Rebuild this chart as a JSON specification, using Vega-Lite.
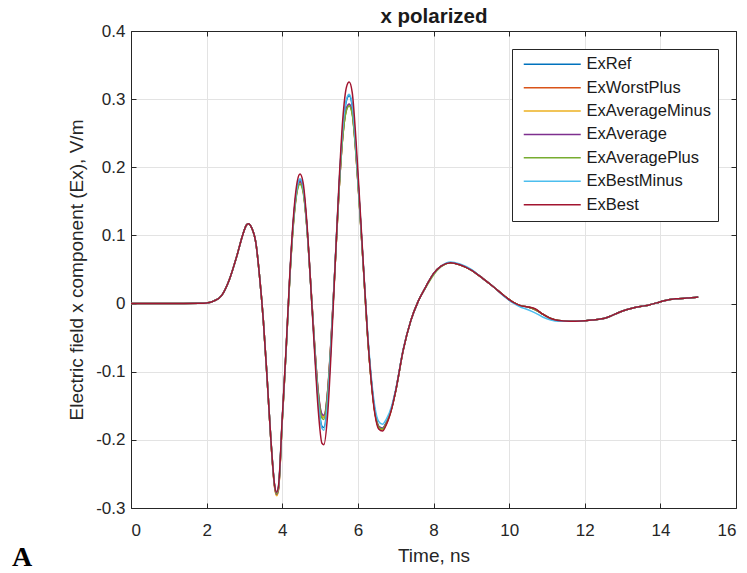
{
  "$schema": "https://vega.github.io/schema/vega-lite/v6.json",
  "width": 605,
  "height": 477,
  "autosize": {"type": "none"},
  "padding": {"left": 131, "top": 31, "right": 11, "bottom": 65},
  "background": "white",
  "title": {
    "text": "A",
    "orient": "bottom",
    "anchor": "start",
    "frame": "group",
    "font": "Liberation Serif",
    "fontSize": 28,
    "fontWeight": "bold",
    "color": "black",
    "dx": -119,
    "offset": -21
  },
  "config": {
    "font": "Liberation Sans",
    "view": {"stroke": null},
    "axis": {
      "domainColor": "#262626",
      "domainWidth": 1,
      "tickColor": "#262626",
      "tickSize": -5,
      "labelColor": "#262626",
      "titleColor": "#262626",
      "labelFont": "Liberation Sans",
      "titleFont": "Liberation Sans",
      "labelFontSize": 17,
      "titleFontSize": 19,
      "titleFontWeight": "normal",
      "gridColor": "#e3e3e3"
    }
  },
  "data": {
    "values": [
      {"t": 0, "ExRef": 0, "ExWorstPlus": 0, "ExAverageMinus": 0, "ExAverage": 0, "ExAveragePlus": 0, "ExBestMinus": 0, "ExBest": 0},
      {"t": 1, "ExRef": 0, "ExWorstPlus": 0, "ExAverageMinus": 0, "ExAverage": 0, "ExAveragePlus": 0, "ExBestMinus": 0, "ExBest": 0},
      {"t": 1.8, "ExRef": 0.0005, "ExWorstPlus": 0.0005, "ExAverageMinus": 0.0005, "ExAverage": 0.0005, "ExAveragePlus": 0.0005, "ExBestMinus": 0.0005, "ExBest": 0.0005},
      {"t": 2.0, "ExRef": 0.001, "ExWorstPlus": 0.001, "ExAverageMinus": 0.001, "ExAverage": 0.001, "ExAveragePlus": 0.001, "ExBestMinus": 0.001, "ExBest": 0.001},
      {"t": 2.2, "ExRef": 0.004, "ExWorstPlus": 0.004, "ExAverageMinus": 0.004, "ExAverage": 0.004, "ExAveragePlus": 0.004, "ExBestMinus": 0.004, "ExBest": 0.004},
      {"t": 2.4, "ExRef": 0.012, "ExWorstPlus": 0.012, "ExAverageMinus": 0.012, "ExAverage": 0.012, "ExAveragePlus": 0.012, "ExBestMinus": 0.012, "ExBest": 0.012},
      {"t": 2.6, "ExRef": 0.035, "ExWorstPlus": 0.035, "ExAverageMinus": 0.035, "ExAverage": 0.035, "ExAveragePlus": 0.035, "ExBestMinus": 0.035, "ExBest": 0.035},
      {"t": 2.8, "ExRef": 0.07, "ExWorstPlus": 0.07, "ExAverageMinus": 0.07, "ExAverage": 0.07, "ExAveragePlus": 0.07, "ExBestMinus": 0.07, "ExBest": 0.07},
      {"t": 2.95, "ExRef": 0.1, "ExWorstPlus": 0.1, "ExAverageMinus": 0.1, "ExAverage": 0.1, "ExAveragePlus": 0.1, "ExBestMinus": 0.1, "ExBest": 0.1},
      {"t": 3.05, "ExRef": 0.115, "ExWorstPlus": 0.115, "ExAverageMinus": 0.115, "ExAverage": 0.115, "ExAveragePlus": 0.115, "ExBestMinus": 0.115, "ExBest": 0.115},
      {"t": 3.1, "ExRef": 0.117, "ExWorstPlus": 0.117, "ExAverageMinus": 0.117, "ExAverage": 0.117, "ExAveragePlus": 0.117, "ExBestMinus": 0.117, "ExBest": 0.117},
      {"t": 3.2, "ExRef": 0.11, "ExWorstPlus": 0.11, "ExAverageMinus": 0.11, "ExAverage": 0.11, "ExAveragePlus": 0.11, "ExBestMinus": 0.11, "ExBest": 0.11},
      {"t": 3.3, "ExRef": 0.09, "ExWorstPlus": 0.09, "ExAverageMinus": 0.09, "ExAverage": 0.09, "ExAveragePlus": 0.09, "ExBestMinus": 0.09, "ExBest": 0.09},
      {"t": 3.4, "ExRef": 0.04, "ExWorstPlus": 0.04, "ExAverageMinus": 0.04, "ExAverage": 0.04, "ExAveragePlus": 0.04, "ExBestMinus": 0.04, "ExBest": 0.04},
      {"t": 3.5, "ExRef": -0.025, "ExWorstPlus": -0.025, "ExAverageMinus": -0.025, "ExAverage": -0.025, "ExAveragePlus": -0.025, "ExBestMinus": -0.025, "ExBest": -0.025},
      {"t": 3.6, "ExRef": -0.11, "ExWorstPlus": -0.11, "ExAverageMinus": -0.11, "ExAverage": -0.11, "ExAveragePlus": -0.11, "ExBestMinus": -0.11, "ExBest": -0.11},
      {"t": 3.7, "ExRef": -0.2, "ExWorstPlus": -0.201, "ExAverageMinus": -0.202, "ExAverage": -0.201, "ExAveragePlus": -0.2, "ExBestMinus": -0.2, "ExBest": -0.2},
      {"t": 3.8, "ExRef": -0.268, "ExWorstPlus": -0.27, "ExAverageMinus": -0.271, "ExAverage": -0.269, "ExAveragePlus": -0.268, "ExBestMinus": -0.267, "ExBest": -0.267},
      {"t": 3.85, "ExRef": -0.278, "ExWorstPlus": -0.281, "ExAverageMinus": -0.282, "ExAverage": -0.28, "ExAveragePlus": -0.279, "ExBestMinus": -0.277, "ExBest": -0.277},
      {"t": 3.9, "ExRef": -0.27, "ExWorstPlus": -0.273, "ExAverageMinus": -0.274, "ExAverage": -0.272, "ExAveragePlus": -0.271, "ExBestMinus": -0.269, "ExBest": -0.268},
      {"t": 4.0, "ExRef": -0.17, "ExWorstPlus": -0.172, "ExAverageMinus": -0.173, "ExAverage": -0.171, "ExAveragePlus": -0.172, "ExBestMinus": -0.17, "ExBest": -0.168},
      {"t": 4.1, "ExRef": -0.07, "ExWorstPlus": -0.07, "ExAverageMinus": -0.071, "ExAverage": -0.07, "ExAveragePlus": -0.071, "ExBestMinus": -0.07, "ExBest": -0.068},
      {"t": 4.2, "ExRef": 0.04, "ExWorstPlus": 0.039, "ExAverageMinus": 0.038, "ExAverage": 0.039, "ExAveragePlus": 0.037, "ExBestMinus": 0.04, "ExBest": 0.043},
      {"t": 4.3, "ExRef": 0.125, "ExWorstPlus": 0.122, "ExAverageMinus": 0.121, "ExAverage": 0.123, "ExAveragePlus": 0.119, "ExBestMinus": 0.125, "ExBest": 0.13},
      {"t": 4.4, "ExRef": 0.172, "ExWorstPlus": 0.168, "ExAverageMinus": 0.168, "ExAverage": 0.17, "ExAveragePlus": 0.166, "ExBestMinus": 0.172, "ExBest": 0.18},
      {"t": 4.47, "ExRef": 0.182, "ExWorstPlus": 0.178, "ExAverageMinus": 0.177, "ExAverage": 0.179, "ExAveragePlus": 0.175, "ExBestMinus": 0.183, "ExBest": 0.19},
      {"t": 4.55, "ExRef": 0.17, "ExWorstPlus": 0.167, "ExAverageMinus": 0.166, "ExAverage": 0.168, "ExAveragePlus": 0.164, "ExBestMinus": 0.171, "ExBest": 0.178},
      {"t": 4.65, "ExRef": 0.115, "ExWorstPlus": 0.114, "ExAverageMinus": 0.113, "ExAverage": 0.114, "ExAveragePlus": 0.112, "ExBestMinus": 0.115, "ExBest": 0.12},
      {"t": 4.75, "ExRef": 0.03, "ExWorstPlus": 0.031, "ExAverageMinus": 0.031, "ExAverage": 0.032, "ExAveragePlus": 0.03, "ExBestMinus": 0.03, "ExBest": 0.03},
      {"t": 4.85, "ExRef": -0.06, "ExWorstPlus": -0.056, "ExAverageMinus": -0.056, "ExAverage": -0.055, "ExAveragePlus": -0.057, "ExBestMinus": -0.061, "ExBest": -0.066},
      {"t": 4.95, "ExRef": -0.14, "ExWorstPlus": -0.13, "ExAverageMinus": -0.13, "ExAverage": -0.128, "ExAveragePlus": -0.132, "ExBestMinus": -0.142, "ExBest": -0.155},
      {"t": 5.05, "ExRef": -0.18, "ExWorstPlus": -0.165, "ExAverageMinus": -0.166, "ExAverage": -0.162, "ExAveragePlus": -0.168, "ExBestMinus": -0.183, "ExBest": -0.205},
      {"t": 5.1, "ExRef": -0.182, "ExWorstPlus": -0.167, "ExAverageMinus": -0.167, "ExAverage": -0.164, "ExAveragePlus": -0.17, "ExBestMinus": -0.186, "ExBest": -0.207},
      {"t": 5.2, "ExRef": -0.14, "ExWorstPlus": -0.13, "ExAverageMinus": -0.13, "ExAverage": -0.128, "ExAveragePlus": -0.132, "ExBestMinus": -0.143, "ExBest": -0.163},
      {"t": 5.3, "ExRef": -0.05, "ExWorstPlus": -0.045, "ExAverageMinus": -0.045, "ExAverage": -0.043, "ExAveragePlus": -0.047, "ExBestMinus": -0.05, "ExBest": -0.062},
      {"t": 5.4, "ExRef": 0.06, "ExWorstPlus": 0.058, "ExAverageMinus": 0.058, "ExAverage": 0.059, "ExAveragePlus": 0.057, "ExBestMinus": 0.06, "ExBest": 0.058},
      {"t": 5.5, "ExRef": 0.17, "ExWorstPlus": 0.164, "ExAverageMinus": 0.164, "ExAverage": 0.165, "ExAveragePlus": 0.163, "ExBestMinus": 0.17, "ExBest": 0.175},
      {"t": 5.6, "ExRef": 0.255, "ExWorstPlus": 0.245, "ExAverageMinus": 0.245, "ExAverage": 0.246, "ExAveragePlus": 0.244, "ExBestMinus": 0.256, "ExBest": 0.27},
      {"t": 5.7, "ExRef": 0.298, "ExWorstPlus": 0.285, "ExAverageMinus": 0.285, "ExAverage": 0.287, "ExAveragePlus": 0.284, "ExBestMinus": 0.3, "ExBest": 0.318},
      {"t": 5.77, "ExRef": 0.305, "ExWorstPlus": 0.292, "ExAverageMinus": 0.291, "ExAverage": 0.293, "ExAveragePlus": 0.29, "ExBestMinus": 0.307, "ExBest": 0.325},
      {"t": 5.85, "ExRef": 0.29, "ExWorstPlus": 0.28, "ExAverageMinus": 0.279, "ExAverage": 0.281, "ExAveragePlus": 0.278, "ExBestMinus": 0.292, "ExBest": 0.31},
      {"t": 5.95, "ExRef": 0.225, "ExWorstPlus": 0.22, "ExAverageMinus": 0.219, "ExAverage": 0.221, "ExAveragePlus": 0.218, "ExBestMinus": 0.226, "ExBest": 0.24},
      {"t": 6.05, "ExRef": 0.14, "ExWorstPlus": 0.138, "ExAverageMinus": 0.137, "ExAverage": 0.138, "ExAveragePlus": 0.136, "ExBestMinus": 0.141, "ExBest": 0.148},
      {"t": 6.15, "ExRef": 0.05, "ExWorstPlus": 0.05, "ExAverageMinus": 0.049, "ExAverage": 0.05, "ExAveragePlus": 0.049, "ExBestMinus": 0.052, "ExBest": 0.052},
      {"t": 6.25, "ExRef": -0.04, "ExWorstPlus": -0.041, "ExAverageMinus": -0.042, "ExAverage": -0.041, "ExAveragePlus": -0.042, "ExBestMinus": -0.036, "ExBest": -0.04},
      {"t": 6.35, "ExRef": -0.11, "ExWorstPlus": -0.111, "ExAverageMinus": -0.112, "ExAverage": -0.11, "ExAveragePlus": -0.111, "ExBestMinus": -0.105, "ExBest": -0.112},
      {"t": 6.45, "ExRef": -0.158, "ExWorstPlus": -0.16, "ExAverageMinus": -0.16, "ExAverage": -0.158, "ExAveragePlus": -0.159, "ExBestMinus": -0.152, "ExBest": -0.162},
      {"t": 6.55, "ExRef": -0.18, "ExWorstPlus": -0.181, "ExAverageMinus": -0.181, "ExAverage": -0.18, "ExAveragePlus": -0.181, "ExBestMinus": -0.173, "ExBest": -0.184},
      {"t": 6.65, "ExRef": -0.183, "ExWorstPlus": -0.184, "ExAverageMinus": -0.185, "ExAverage": -0.183, "ExAveragePlus": -0.184, "ExBestMinus": -0.177, "ExBest": -0.187},
      {"t": 6.75, "ExRef": -0.175, "ExWorstPlus": -0.176, "ExAverageMinus": -0.177, "ExAverage": -0.175, "ExAveragePlus": -0.176, "ExBestMinus": -0.17, "ExBest": -0.178},
      {"t": 6.9, "ExRef": -0.152, "ExWorstPlus": -0.152, "ExAverageMinus": -0.153, "ExAverage": -0.152, "ExAveragePlus": -0.152, "ExBestMinus": -0.149, "ExBest": -0.153},
      {"t": 7.0, "ExRef": -0.128, "ExWorstPlus": -0.128, "ExAverageMinus": -0.128, "ExAverage": -0.128, "ExAveragePlus": -0.128, "ExBestMinus": -0.126, "ExBest": -0.128},
      {"t": 7.2, "ExRef": -0.068, "ExWorstPlus": -0.068, "ExAverageMinus": -0.068, "ExAverage": -0.068, "ExAveragePlus": -0.068, "ExBestMinus": -0.067, "ExBest": -0.068},
      {"t": 7.4, "ExRef": -0.025, "ExWorstPlus": -0.025, "ExAverageMinus": -0.025, "ExAverage": -0.025, "ExAveragePlus": -0.025, "ExBestMinus": -0.025, "ExBest": -0.025},
      {"t": 7.6, "ExRef": 0.004, "ExWorstPlus": 0.004, "ExAverageMinus": 0.004, "ExAverage": 0.004, "ExAveragePlus": 0.004, "ExBestMinus": 0.004, "ExBest": 0.004},
      {"t": 7.8, "ExRef": 0.025, "ExWorstPlus": 0.025, "ExAverageMinus": 0.025, "ExAverage": 0.025, "ExAveragePlus": 0.024, "ExBestMinus": 0.025, "ExBest": 0.025},
      {"t": 8.0, "ExRef": 0.044, "ExWorstPlus": 0.044, "ExAverageMinus": 0.044, "ExAverage": 0.044, "ExAveragePlus": 0.042, "ExBestMinus": 0.044, "ExBest": 0.044},
      {"t": 8.2, "ExRef": 0.055, "ExWorstPlus": 0.055, "ExAverageMinus": 0.055, "ExAverage": 0.055, "ExAveragePlus": 0.054, "ExBestMinus": 0.055, "ExBest": 0.055},
      {"t": 8.45, "ExRef": 0.06, "ExWorstPlus": 0.06, "ExAverageMinus": 0.06, "ExAverage": 0.06, "ExAveragePlus": 0.06, "ExBestMinus": 0.061, "ExBest": 0.06},
      {"t": 8.7, "ExRef": 0.057, "ExWorstPlus": 0.057, "ExAverageMinus": 0.057, "ExAverage": 0.057, "ExAveragePlus": 0.057, "ExBestMinus": 0.058, "ExBest": 0.057},
      {"t": 9.0, "ExRef": 0.049, "ExWorstPlus": 0.049, "ExAverageMinus": 0.049, "ExAverage": 0.049, "ExAveragePlus": 0.049, "ExBestMinus": 0.05, "ExBest": 0.049},
      {"t": 9.3, "ExRef": 0.037, "ExWorstPlus": 0.037, "ExAverageMinus": 0.037, "ExAverage": 0.037, "ExAveragePlus": 0.037, "ExBestMinus": 0.037, "ExBest": 0.037},
      {"t": 9.6, "ExRef": 0.024, "ExWorstPlus": 0.024, "ExAverageMinus": 0.024, "ExAverage": 0.024, "ExAveragePlus": 0.024, "ExBestMinus": 0.024, "ExBest": 0.024},
      {"t": 9.9, "ExRef": 0.01, "ExWorstPlus": 0.01, "ExAverageMinus": 0.01, "ExAverage": 0.01, "ExAveragePlus": 0.01, "ExBestMinus": 0.009, "ExBest": 0.01},
      {"t": 10.1, "ExRef": 0.002, "ExWorstPlus": 0.002, "ExAverageMinus": 0.002, "ExAverage": 0.002, "ExAveragePlus": 0.002, "ExBestMinus": 0.001, "ExBest": 0.002},
      {"t": 10.3, "ExRef": -0.003, "ExWorstPlus": -0.003, "ExAverageMinus": -0.003, "ExAverage": -0.003, "ExAveragePlus": -0.003, "ExBestMinus": -0.005, "ExBest": -0.003},
      {"t": 10.5, "ExRef": -0.005, "ExWorstPlus": -0.005, "ExAverageMinus": -0.005, "ExAverage": -0.005, "ExAveragePlus": -0.005, "ExBestMinus": -0.009, "ExBest": -0.005},
      {"t": 10.7, "ExRef": -0.009, "ExWorstPlus": -0.009, "ExAverageMinus": -0.009, "ExAverage": -0.009, "ExAveragePlus": -0.009, "ExBestMinus": -0.014, "ExBest": -0.008},
      {"t": 10.9, "ExRef": -0.016, "ExWorstPlus": -0.016, "ExAverageMinus": -0.016, "ExAverage": -0.016, "ExAveragePlus": -0.016, "ExBestMinus": -0.02, "ExBest": -0.016},
      {"t": 11.1, "ExRef": -0.022, "ExWorstPlus": -0.022, "ExAverageMinus": -0.022, "ExAverage": -0.022, "ExAveragePlus": -0.022, "ExBestMinus": -0.024, "ExBest": -0.022},
      {"t": 11.3, "ExRef": -0.025, "ExWorstPlus": -0.025, "ExAverageMinus": -0.025, "ExAverage": -0.025, "ExAveragePlus": -0.025, "ExBestMinus": -0.026, "ExBest": -0.025},
      {"t": 11.6, "ExRef": -0.026, "ExWorstPlus": -0.026, "ExAverageMinus": -0.026, "ExAverage": -0.026, "ExAveragePlus": -0.026, "ExBestMinus": -0.026, "ExBest": -0.026},
      {"t": 11.9, "ExRef": -0.0255, "ExWorstPlus": -0.0255, "ExAverageMinus": -0.0255, "ExAverage": -0.0255, "ExAveragePlus": -0.0255, "ExBestMinus": -0.0255, "ExBest": -0.0255},
      {"t": 12.2, "ExRef": -0.024, "ExWorstPlus": -0.024, "ExAverageMinus": -0.024, "ExAverage": -0.024, "ExAveragePlus": -0.024, "ExBestMinus": -0.024, "ExBest": -0.024},
      {"t": 12.5, "ExRef": -0.022, "ExWorstPlus": -0.022, "ExAverageMinus": -0.022, "ExAverage": -0.022, "ExAveragePlus": -0.022, "ExBestMinus": -0.022, "ExBest": -0.022},
      {"t": 12.7, "ExRef": -0.018, "ExWorstPlus": -0.018, "ExAverageMinus": -0.018, "ExAverage": -0.018, "ExAveragePlus": -0.018, "ExBestMinus": -0.018, "ExBest": -0.018},
      {"t": 12.9, "ExRef": -0.013, "ExWorstPlus": -0.013, "ExAverageMinus": -0.013, "ExAverage": -0.013, "ExAveragePlus": -0.013, "ExBestMinus": -0.013, "ExBest": -0.013},
      {"t": 13.1, "ExRef": -0.009, "ExWorstPlus": -0.009, "ExAverageMinus": -0.009, "ExAverage": -0.009, "ExAveragePlus": -0.009, "ExBestMinus": -0.009, "ExBest": -0.009},
      {"t": 13.3, "ExRef": -0.006, "ExWorstPlus": -0.006, "ExAverageMinus": -0.006, "ExAverage": -0.006, "ExAveragePlus": -0.006, "ExBestMinus": -0.006, "ExBest": -0.006},
      {"t": 13.5, "ExRef": -0.004, "ExWorstPlus": -0.004, "ExAverageMinus": -0.004, "ExAverage": -0.004, "ExAveragePlus": -0.004, "ExBestMinus": -0.004, "ExBest": -0.004},
      {"t": 13.7, "ExRef": -0.002, "ExWorstPlus": -0.002, "ExAverageMinus": -0.002, "ExAverage": -0.002, "ExAveragePlus": -0.002, "ExBestMinus": -0.002, "ExBest": -0.002},
      {"t": 13.9, "ExRef": 0.001, "ExWorstPlus": 0.001, "ExAverageMinus": 0.001, "ExAverage": 0.001, "ExAveragePlus": 0.001, "ExBestMinus": 0.001, "ExBest": 0.001},
      {"t": 14.1, "ExRef": 0.004, "ExWorstPlus": 0.004, "ExAverageMinus": 0.004, "ExAverage": 0.004, "ExAveragePlus": 0.004, "ExBestMinus": 0.004, "ExBest": 0.004},
      {"t": 14.4, "ExRef": 0.007, "ExWorstPlus": 0.007, "ExAverageMinus": 0.007, "ExAverage": 0.007, "ExAveragePlus": 0.007, "ExBestMinus": 0.007, "ExBest": 0.007},
      {"t": 14.7, "ExRef": 0.008, "ExWorstPlus": 0.008, "ExAverageMinus": 0.008, "ExAverage": 0.008, "ExAveragePlus": 0.008, "ExBestMinus": 0.008, "ExBest": 0.008},
      {"t": 15.0, "ExRef": 0.0098, "ExWorstPlus": 0.0098, "ExAverageMinus": 0.0098, "ExAverage": 0.0098, "ExAveragePlus": 0.0098, "ExBestMinus": 0.0098, "ExBest": 0.0098}
    ]
  },
  "transform": [
    {"fold": ["ExRef", "ExWorstPlus", "ExAverageMinus", "ExAverage", "ExAveragePlus", "ExBestMinus", "ExBest"], "as": ["series", "v"]}
  ],
  "layer": [
    {
      "mark": {"type": "line", "strokeWidth": 1.5, "interpolate": "monotone"},
      "encoding": {
        "x": {
          "field": "t",
          "type": "quantitative",
          "scale": {"domain": [0, 16], "nice": false},
          "axis": {
            "orient": "bottom",
            "values": [0, 2, 4, 6, 8, 10, 12, 14, 16],
            "grid": true,
            "title": "Time, ns",
            "labelPadding": 19,
            "titlePadding": 8
          }
        },
        "y": {
          "field": "v",
          "type": "quantitative",
          "scale": {"domain": [-0.3, 0.4], "nice": false, "zero": false},
          "axis": {
            "orient": "left",
            "values": [-0.3, -0.2, -0.1, 0, 0.1, 0.2, 0.3, 0.4],
            "labelExpr": "'' + round(datum.value * 10) / 10",
            "grid": true,
            "title": "Electric field x component (Ex), V/m",
            "labelPadding": 11,
            "titlePadding": 9
          }
        },
        "color": {
          "field": "series",
          "type": "nominal",
          "sort": null,
          "scale": {
            "domain": ["ExRef", "ExWorstPlus", "ExAverageMinus", "ExAverage", "ExAveragePlus", "ExBestMinus", "ExBest"],
            "range": ["#0072BD", "#D95319", "#EDB120", "#7E2F8E", "#77AC30", "#4DBEEE", "#A2142F"]
          },
          "legend": {
            "title": null,
            "orient": "top-right",
            "offset": 18,
            "symbolType": "M-5.7,0H5.7",
            "symbolSize": 100,
            "symbolStrokeWidth": 1.5,
            "labelFont": "Liberation Sans",
            "labelFontSize": 16.5,
            "labelColor": "#1a1a1a",
            "strokeColor": "#262626",
            "fillColor": "white",
            "padding": 7,
            "rowPadding": 6.4,
            "symbolOffset": 25,
            "labelOffset": 26
          }
        }
      }
    },
    {
      "mark": {"type": "point", "opacity": 0},
      "encoding": {
        "x": {
          "field": "t",
          "type": "quantitative",
          "axis": {
            "orient": "top",
            "values": [0, 2, 4, 6, 8, 10, 12, 14, 16],
            "labels": false,
            "grid": false,
            "title": "x polarized",
            "titleFontWeight": "bold",
            "titleFontSize": 20.5,
            "titleColor": "#1a1a1a",
            "titlePadding": 4
          }
        },
        "y": {
          "field": "v",
          "type": "quantitative",
          "axis": {
            "orient": "right",
            "values": [-0.3, -0.2, -0.1, 0, 0.1, 0.2, 0.3, 0.4],
            "labels": false,
            "grid": false,
            "title": null
          }
        }
      }
    }
  ],
  "resolve": {"axis": {"x": "independent", "y": "independent"}}
}
